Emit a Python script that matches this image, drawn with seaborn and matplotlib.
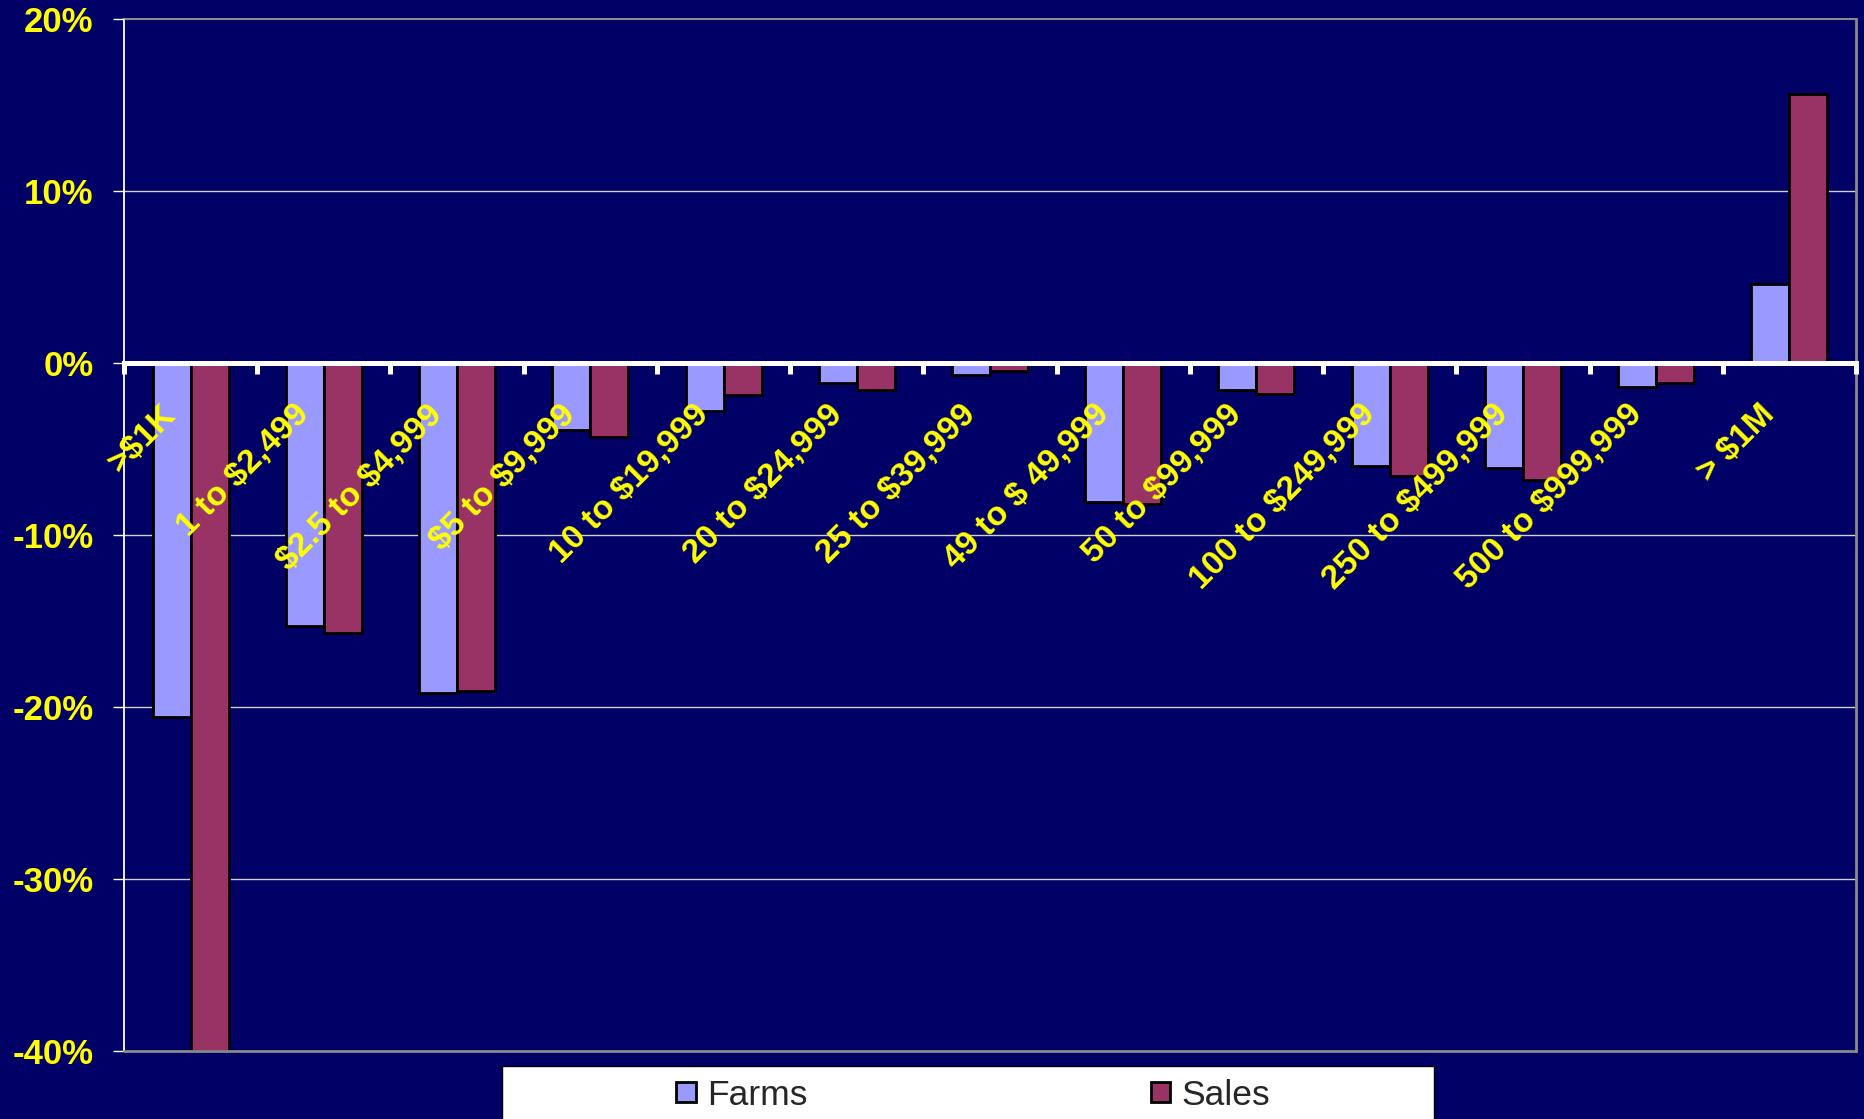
import numpy as np
import pandas as pd
import seaborn as sns
import matplotlib
matplotlib.use('Agg')
from matplotlib import pyplot as plt
from matplotlib import transforms as mtransforms
from matplotlib.patches import Rectangle
from matplotlib.ticker import FuncFormatter

# change in farms and sales by sales class (percent)
categories = ['>$1K', '1 to $2,499', '$2.5 to $4,999', '$5 to $9,999',
              '10 to $19,999', '20 to $24,999', '25 to $39,999',
              '49 to $ 49,999', '50 to $99,999', '100 to $249,999',
              '250 to $499,999', '500 to $999,999', '> $1M']
farms = [-20.6, -15.3, -19.2, -3.9, -2.8, -1.2, -0.7, -8.1, -1.6, -6.0, -6.1, -1.4, 4.6]
sales = [-40.0, -15.7, -19.1, -4.3, -1.9, -1.6, -0.5, -8.2, -1.8, -6.6, -6.8, -1.2, 15.6]
series = ['Farms', 'Sales']
yticks = [-40, -30, -20, -10, 0, 10, 20]

navy = '#000066'
yellow = '#FFFF00'
palette = {'Farms': '#9999FF', 'Sales': '#993366'}

df = pd.DataFrame({'category': categories * 2,
                   'series': ['Farms'] * len(categories) + ['Sales'] * len(categories),
                   'value': farms + sales})

sns.set_style('white', {'axes.facecolor': navy, 'figure.facecolor': navy})
plt.rcParams['font.family'] = ['Liberation Sans', 'DejaVu Sans']
plt.rcParams['axes.unicode_minus'] = False

fig = plt.figure(figsize=(18.64, 11.19), dpi=100)
ax = fig.add_axes([124 / 1864, 1 - 1050.7 / 1119, 1732 / 1864, (1050.7 - 18.7) / 1119])

sns.barplot(data=df, x='category', y='value', hue='series', hue_order=series,
            palette=palette, width=0.57, gap=0, edgecolor='black', linewidth=2,
            saturation=1, ax=ax, zorder=1)

ax.set_ylim(-40, 20)
ax.set_xlim(-0.5, len(categories) - 0.5)
ax.set_yticks(yticks)
ax.yaxis.set_major_formatter(FuncFormatter(lambda v, p: '{:.0f}%'.format(v)))
ax.set_xlabel('')
ax.set_ylabel('')

# gridlines behind the bars, axis (and its labels) above them
ax.set_axisbelow(False)
ax.grid(False)
for v in yticks[1:-1]:
    if v != 0:
        ax.axhline(v, color='#D0D0D0', linewidth=1, zorder=0.5)

# spines
ax.spines['bottom'].set_position(('data', 0))
ax.spines['bottom'].set_color('white')
ax.spines['bottom'].set_linewidth(3.6)
ax.spines['bottom'].set_zorder(4)
ax.spines['left'].set_color('white')
ax.spines['left'].set_linewidth(1.3)
ax.spines['top'].set_color('#8A8A8A')
ax.spines['top'].set_linewidth(1.5)
ax.spines['right'].set_color('#8A8A8A')
ax.spines['right'].set_linewidth(2)
ax.axhline(-40, color='#8A8A8A', linewidth=2, clip_on=False, zorder=4)

# y ticks
ax.tick_params(axis='y', which='major', left=True, length=8, width=1, color='white',
               direction='out', pad=14, labelsize=25, labelcolor=yellow)
for lab in ax.get_yticklabels():
    lab.set_fontweight('bold')

# x ticks: marks at category boundaries, labels at centres
ax.set_xticks(np.arange(len(categories)))
ax.set_xticklabels([c.replace('$', r'\$') for c in categories])
ax.set_xticks(np.arange(-0.5, len(categories), 1), minor=True)
ax.tick_params(axis='x', which='minor', bottom=True, length=8, width=3.6,
               color='white', direction='out')
ax.tick_params(axis='x', which='major', bottom=True, length=0, pad=26,
               labelsize=24.3, labelcolor=yellow)
offset = mtransforms.ScaledTranslation(-0.30, 0, fig.dpi_scale_trans)
for lab in ax.get_xticklabels():
    lab.set_rotation(45)
    lab.set_ha('right')
    lab.set_va('top')
    lab.set_rotation_mode('anchor')
    lab.set_fontweight('bold')
    lab.set_transform(lab.get_transform() + offset)

# legend in a white box below the plot
handles, labels = ax.get_legend_handles_labels()
ax.legend_.remove()
fig.add_artist(Rectangle((502 / 1864, -0.01), 932 / 1864, 0.0574,
                         transform=fig.transFigure, facecolor='white',
                         edgecolor='black', linewidth=1, zorder=1))
leg = fig.legend(handles, labels, loc='center', bbox_to_anchor=(0.522, 0.0214),
                 ncol=2, frameon=False, fontsize=25.5, columnspacing=9.7,
                 handlelength=0.56, handleheight=0.48, handletextpad=0.3)
leg.set_zorder(5)

fig.savefig('out.png', dpi=100, facecolor=navy)
